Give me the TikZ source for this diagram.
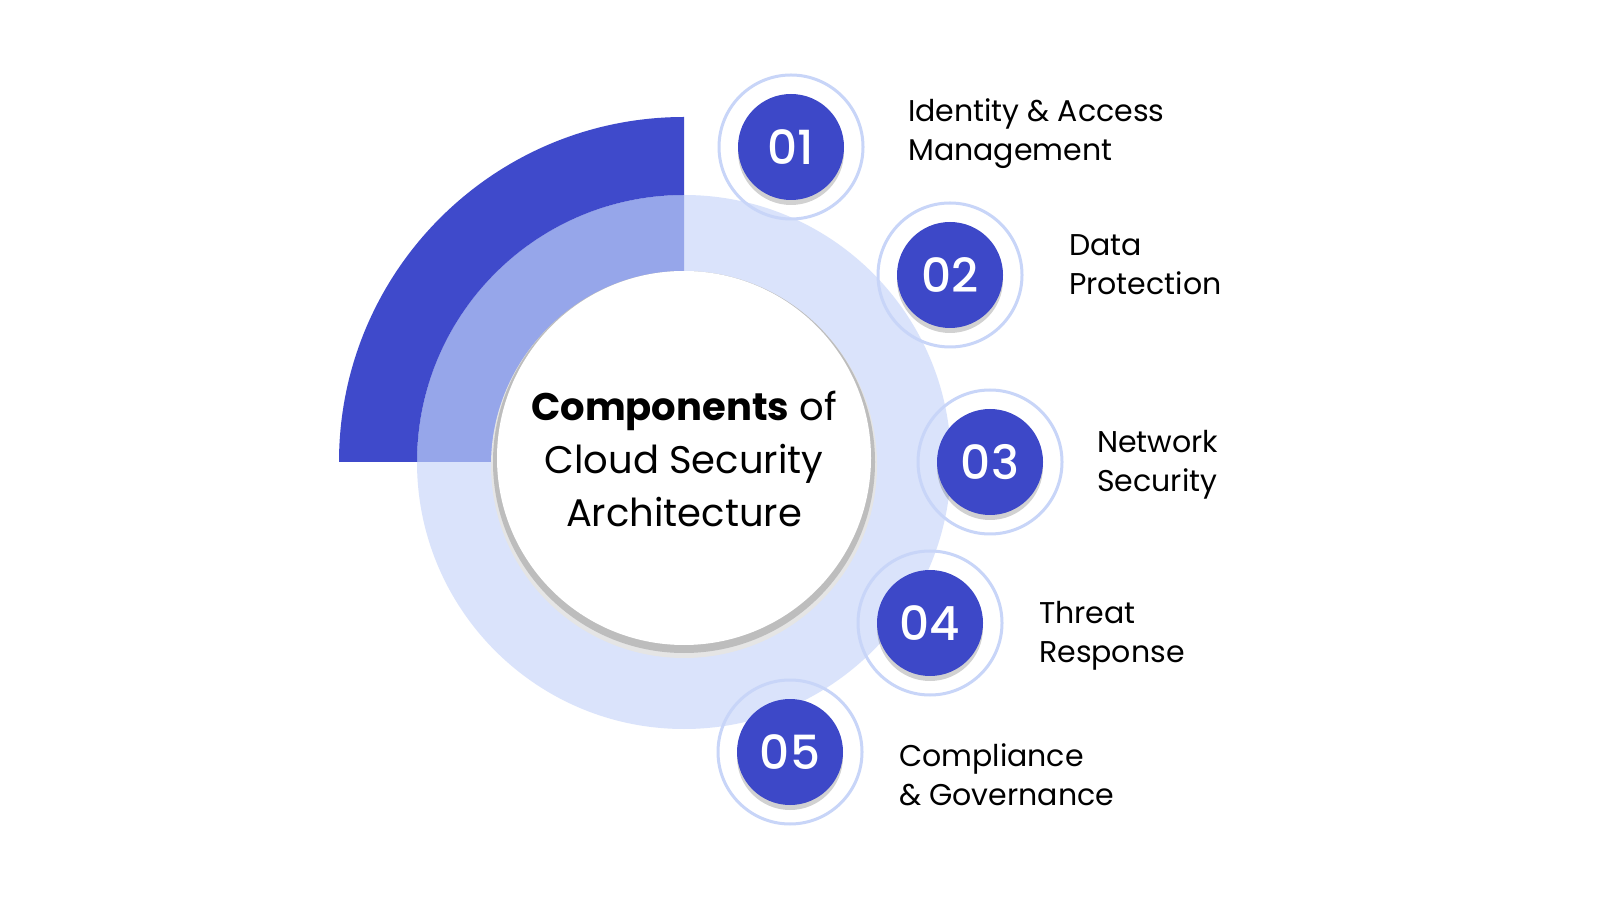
\documentclass[tikz,border=0pt]{standalone}
\usepackage{fontspec}
\setmainfont{Poppins}
\newfontfamily\numfont{Poppins Medium}
\definecolor{darkb}{HTML}{3F4ACB}
\definecolor{medb}{HTML}{96A6EA}
\definecolor{lightb}{HTML}{DAE3FB}
\definecolor{ringb}{HTML}{C8D5F8}
\definecolor{numb}{HTML}{3D48C8}
\begin{document}
\begin{tikzpicture}[x=1pt,y=1pt,
 numcircle/.style={circle, fill=numb, minimum size=106pt, inner sep=0pt, text=white, font=\fontsize{47}{47}\selectfont\numfont},
 ringc/.style={circle, draw=ringb, line width=3pt, minimum size=144pt, inner sep=0pt},
 numshadow/.style={black, opacity=0.18},
 lbl/.style={anchor=base west, align=left, inner sep=0pt, font=\fontsize{30}{39}\selectfont},
]
\useasboundingbox (0,0) rectangle (1600,900);
\fill[white] (0,0) rectangle (1600,900);
\coordinate (C) at (684,438);
\fill[lightb] (C) circle (267);
\fill[medb] (C) -- (417,438) arc (180:90:267) -- cycle;
\fill[darkb] (339,438) arc (180:90:345) -- (684,705) arc (90:180:267) -- cycle;
% centre disc with shadow
\fill[black!10] (684,435) circle (193);
\fill[black!26] (C) circle (191);
\node[circle, fill=white, minimum size=374pt, inner sep=0pt] (disc) at (684,442) {};
\node[align=center, inner sep=0pt, anchor=base, font=\fontsize{38.5}{53}\selectfont] (title) at (684,373)
  {\textbf{Components} of\\Cloud Security\\Architecture};
% items
\foreach \i/\x/\y in {1/791/753, 2/950/625, 3/990/438, 4/930/277, 5/790/148}{
  \node[ringc] (r\i) at (\x,\y) {};
  \fill[numshadow] (\x,\y-5) circle (53);
  \node[numcircle] (n\i) at (\x,\y) {0\i};
}
\node[lbl] (l1) at (908,739) {Identity \& Access\\Management};
\node[lbl] (l2) at (1069,605) {Data\\Protection};
\node[lbl] (l3) at (1097,408) {Network\\Security};
\node[lbl] (l4) at (1039,237) {Threat\\Response};
\node[lbl] (l5) at (899,95) {Compliance\\\& Governance};
\end{tikzpicture}
\end{document}
